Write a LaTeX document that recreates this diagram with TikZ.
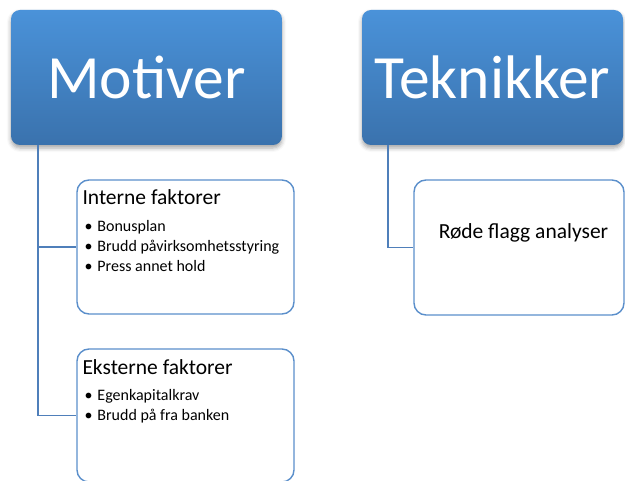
\documentclass[tikz,border=0pt]{standalone}
\usepackage{fontspec}
\setmainfont{Carlito}
\usetikzlibrary{positioning,shadows.blur}
\definecolor{boxtop}{HTML}{4A92D9}
\definecolor{boxbot}{HTML}{3A72AD}
\definecolor{rimblue}{HTML}{5B8FCB}
\definecolor{linkblue}{HTML}{4F7FBA}
\tikzset{
  headbox/.style={rounded corners=9pt, top color=boxtop, bottom color=boxbot,
    text=white, minimum height=135pt, inner sep=0pt,
    font=\fontsize{61.5}{62}\selectfont,
    blur shadow={shadow xshift=0pt, shadow yshift=-3pt, shadow blur radius=4pt, shadow opacity=35}},
  subbox/.style={rounded corners=12pt, draw=rimblue, line width=1.4pt, fill=white,
    minimum width=217pt, minimum height=134pt, inner sep=0pt},
  link/.style={draw=linkblue, line width=1.7pt},
  headtxt/.style={anchor=base west, inner sep=0pt, font=\fontsize{21.5}{22}\selectfont},
  itemtxt/.style={anchor=base west, inner sep=0pt, font=\fontsize{16}{18}\selectfont},
}

\begin{document}
\begin{tikzpicture}[x=1pt,y=-1pt]
    \useasboundingbox (0,0) rectangle (625,481);

    %Hovedbokser
    \node[headbox, minimum width=271pt] (motiver) at (146.5,77.5) {Motiver};
    \node[headbox, minimum width=261pt] (teknikker) at (492.5,77.5) {Teknikker};

    %Underbokser
    \node[subbox] (interne) at (185.5,247) {};
    \node[subbox, minimum height=133pt] (eksterne) at (185.5,415.5) {};
    \node[subbox, minimum width=210pt, minimum height=135pt] (rode) at (519,247.5) {};

    %Tekst
    \node[headtxt] (intHead) at ([shift={(6,25)}]interne.north west) {Interne faktorer};
    \node[itemtxt] (int1) at ([shift={(8,52)}]interne.north west) {\textbullet\hspace{5pt}Bonusplan};
    \node[itemtxt] (int2) at ([shift={(8,72)}]interne.north west) {\textbullet\hspace{5pt}Brudd påvirksomhetsstyring};
    \node[itemtxt] (int3) at ([shift={(8,92)}]interne.north west) {\textbullet\hspace{5pt}Press annet hold};

    \node[headtxt] (ekstHead) at ([shift={(6,26)}]eksterne.north west) {Eksterne faktorer};
    \node[itemtxt] (ekst1) at ([shift={(8,52)}]eksterne.north west) {\textbullet\hspace{5pt}Egenkapitalkrav};
    \node[itemtxt] (ekst2) at ([shift={(8,72)}]eksterne.north west) {\textbullet\hspace{5pt}Brudd på fra banken};

    \node[inner sep=0pt, font=\fontsize{21.5}{22}\selectfont] (rodeTxt)
        at ([shift={(4.5,-15)}]rode.center) {Røde flagg analyser};

    %Linjer
    \coordinate (mroot) at ([xshift=27pt]motiver.south west);
    \coordinate (troot) at ([xshift=26pt]teknikker.south west);
    \draw[link] (mroot) |- (interne.west);
    \draw[link] (mroot) |- (eksterne.west);
    \draw[link] (troot) |- (rode.west);

\end{tikzpicture}
\end{document}
